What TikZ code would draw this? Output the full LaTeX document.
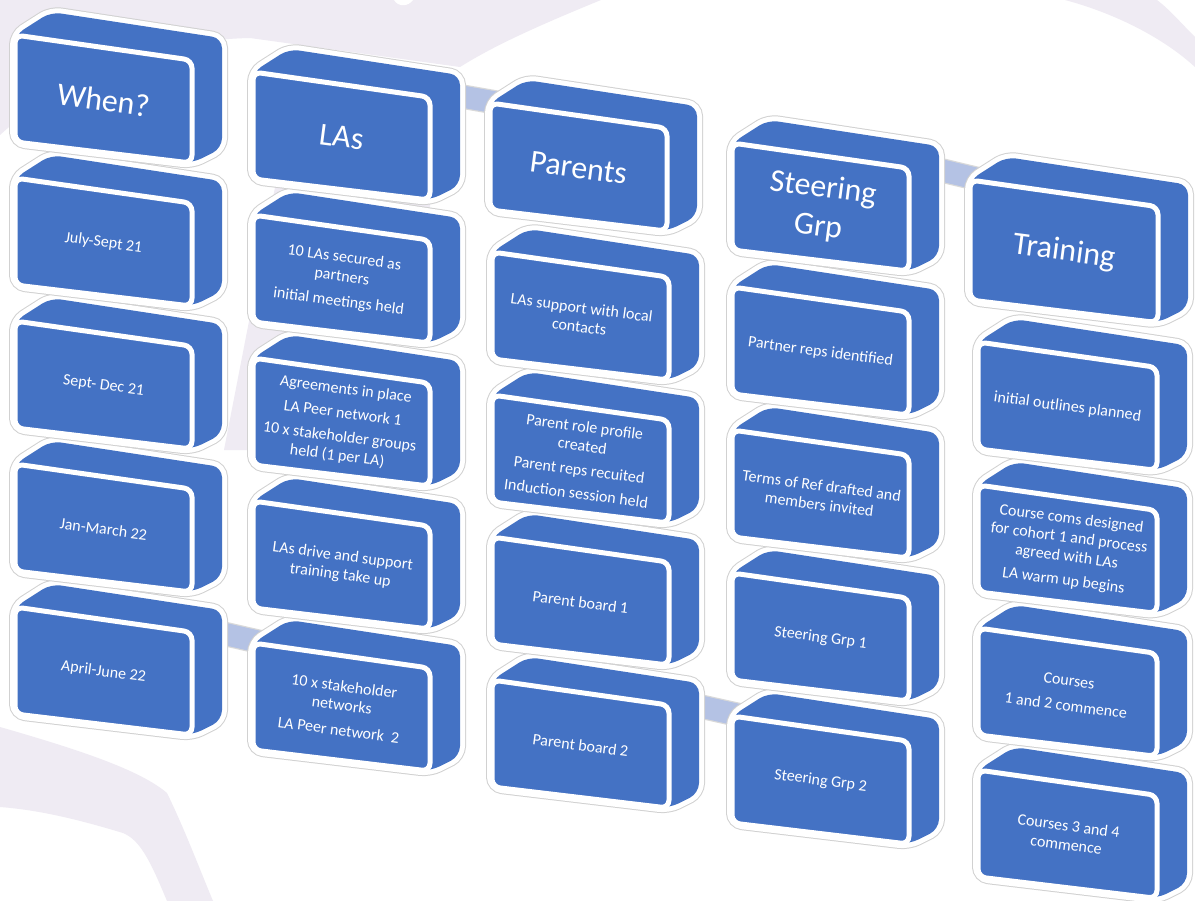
\documentclass[tikz,border=0pt]{standalone}
\usepackage{fontspec}
\setmainfont{Carlito}

\definecolor{blockblue}{HTML}{4472C4}
\definecolor{linkblue}{HTML}{B4C2E4}
\definecolor{bgband}{HTML}{EFEBF3}

\pgfdeclarelayer{bglayer}
\pgfdeclarelayer{linklayer}
\pgfsetlayers{bglayer,linklayer,main}

\tikzset{
  blockside/.style={fill=blockblue, rounded corners=10pt,
    preaction={draw=black!18, line width=12pt},
    preaction={draw=white, line width=10pt}},
  blockfront/.style={fill=blockblue, draw=white, line width=5pt, rounded corners=8pt},
  steptext/.style={text=white, align=center, inner sep=0pt, rotate=-7.5,
    font=\fontsize{16}{19}\selectfont},
  headtext/.style={steptext, font=\fontsize{32}{39}\selectfont},
  linkbar/.style={draw=black!15, line width=1.2pt, double=linkblue, double distance=22pt},
}

% one 3d block: name, x, y, width, height, text style, text
\newcommand{\tlblock}[7]{%
  \begin{scope}[shift={(#2,#3)}]
    \pgfmathsetmacro{\topy}{0.142*#4}
    \pgfmathsetmacro{\boty}{0.142*#4+#5-4}
    \path[blockside] (0,#5) -- (0,0) -- (36,-23) -- ({#4+30},{\topy-22})
      -- ({#4+30},{\boty-15}) -- (#4,\boty) -- cycle;
    \path[blockfront] (0,0) -- (#4,\topy) -- (#4,\boty) -- (0,#5) -- cycle;
    \node[#6] (#1) at ({#4/2},{(\topy+\boty+#5)/4}) {#7};
    \coordinate (#1-r) at ({#4-10},{\topy-8});
    \coordinate (#1-l) at (20,2);
  \end{scope}}

\begin{document}
\begin{tikzpicture}[x=1pt, y=-1pt]
  \useasboundingbox (0,0) rectangle (1195,901);

  % background
  \begin{pgfonlayer}{bglayer}
    \fill[white] (0,0) rectangle (1195,901);
    \fill[bgband] (0,0) -- (601,0) .. controls (540,25) and (495,45) .. (460,67)
      -- (250,38) .. controls (150,40) and (60,80) .. (0,135) -- cycle;
    \fill[white] (394,0) .. controls (398,7) and (408,7) .. (413,0) -- cycle;
    \fill[bgband] (292,100) -- (430,100) -- (430,250) -- (250,450) -- (224,450) -- cycle;
    \fill[bgband] (0,727) .. controls (80,750) and (140,770) .. (167,793)
      .. controls (185,830) and (200,870) .. (213,901) -- (167,901)
      .. controls (150,860) and (140,840) .. (123,833)
      .. controls (80,820) and (40,810) .. (0,807) -- cycle;
    \fill[bgband] (1065,0) .. controls (1110,12) and (1160,35) .. (1195,67)
      -- (1195,37) .. controls (1180,22) and (1170,10) .. (1157,0) -- cycle;
  \end{pgfonlayer}

  % When? column
  \tlblock{when4}{15}{607}{177}{107}{steptext}{April-June 22}
  \tlblock{when3}{15}{464}{177}{107}{steptext}{Jan-March 22}
  \tlblock{when2}{15}{321}{177}{107}{steptext}{Sept- Dec 21}
  \tlblock{when1}{15}{178}{177}{107}{steptext}{July-Sept 21}
  \tlblock{when0}{15}{35}{177}{107}{headtext}{When?}

  % LAs column
  \tlblock{las4}{253}{643}{177}{107}{steptext}{10 x stakeholder\\networks\\[6pt]LA Peer network~~2}
  \tlblock{las3}{253}{501}{177}{107}{steptext}{LAs drive and support\\training take up}
  \tlblock{las2}{253}{358}{177}{107}{steptext}{Agreements in place\\[5pt]LA Peer network 1\\[5pt]10 x stakeholder groups\\held (1 per LA)}
  \tlblock{las1}{253}{215}{177}{107}{steptext}{10 LAs secured as\\partners\\[6pt]initial meetings held}
  \tlblock{las0}{253}{72}{177}{107}{headtext}{LAs}

  % Parents column
  \tlblock{par4}{492}{680}{177}{107}{steptext}{Parent board 2}
  \tlblock{par3}{492}{537}{177}{107}{steptext}{Parent board 1}
  \tlblock{par2}{492}{395}{177}{107}{steptext}{Parent role profile\\created\\[5pt]Parent reps recuited\\[5pt]Induction session held}
  \tlblock{par1}{492}{252}{177}{107}{steptext}{LAs support with local\\contacts}
  \tlblock{par0}{490}{103}{177}{107}{headtext}{Parents}

  % Steering column
  \tlblock{str4}{732}{716}{177}{107}{steptext}{Steering Grp 2}
  \tlblock{str3}{732}{573}{177}{107}{steptext}{Steering Grp 1}
  \tlblock{str2}{732}{430}{177}{107}{steptext}{Terms of Ref drafted and\\members invited}
  \tlblock{str1}{732}{287}{177}{107}{steptext}{Partner reps identified}
  \tlblock{str0}{732}{143}{177}{107}{headtext}{Steering\\Grp}

  % Training column
  \tlblock{trn4}{978}{770}{179}{107}{steptext}{Courses 3 and 4\\commence}
  \tlblock{trn3}{978}{628}{179}{107}{steptext}{Courses\\[6pt]1 and 2 commence}
  \tlblock{trn2}{978}{485}{179}{107}{steptext}{Course coms designed\\for cohort 1 and process\\agreed with LAs\\[5pt]LA warm up begins}
  \tlblock{trn1}{978}{342}{179}{107}{steptext}{initial outlines planned}
  \tlblock{trn0}{970}{180}{188}{120}{headtext}{Training}

  % links between columns
  \begin{pgfonlayer}{linklayer}
    \draw[linkbar] (when4-r) -- (las4-l);
    \draw[linkbar] (las0-r) -- (par0-l);
    \draw[linkbar] (par4-r) -- (str4-l);
    \draw[linkbar] (str0-r) -- (trn0-l);
  \end{pgfonlayer}
\end{tikzpicture}
\end{document}
